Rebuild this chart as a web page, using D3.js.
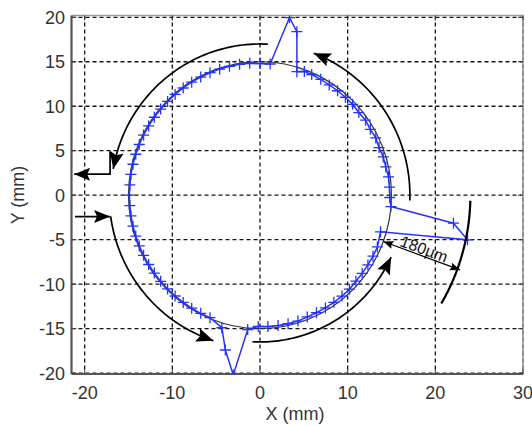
<!DOCTYPE html>
<html>
<head>
<meta charset="utf-8">
<script src="https://cdn.jsdelivr.net/npm/d3@7/dist/d3.min.js"></script>
<style>
  html, body { margin: 0; padding: 0; background: #fff; }
  svg { display: block; font-family: "Liberation Sans", Arial, sans-serif; }
</style>
</head>
<body>
<main></main>
<script>
const width = 532;
const height = 427;

// axis ticks
const xTicks = [-20, -10, 0, 10, 20, 30];
const yTicks = [-20, -15, -10, -5, 0, 5, 10, 15, 20];

const measX = [14.93, 14.80, 14.77, 14.66, 14.35, 14.06, 13.58, 13.21, 12.58, 12.04, 11.27, 10.57, 9.74, 8.85, 7.90, 6.93, 5.90, 5.06,
  4.21, 4.21, 3.36, 1.16, 0.02, -1.17, -2.33, -3.48, -4.60, -5.70, -6.76, -7.79, -8.76, -9.68, -10.54, -11.33, -12.05, -12.70,
  -13.28, -13.77, -14.17, -14.49, -14.72, -14.85, -14.90, -14.85, -14.72, -14.49, -14.17, -13.77, -13.28, -12.70, -12.05, -11.33,
  -10.54, -9.68, -8.76, -7.79, -6.76, -5.70, -4.35, -3.95, -3.05, -1.40, -0.20, 0.90, 2.06, 3.20, 4.33, 5.39, 6.44, 7.46, 8.43,
  9.35, 10.21, 10.94, 11.66, 12.31, 12.89, 13.39, 13.75, 23.67, 22.07, 14.93];
const measY = [-1.28, -0.26, 0.90, 2.06, 3.18, 4.30, 5.35, 6.44, 7.41, 8.43, 9.29, 10.21, 11.01, 11.74, 12.40, 13.02, 13.57, 13.91,
  13.89, 18.38, 19.96, 14.75, 14.80, 14.83, 14.72, 14.49, 14.17, 13.77, 13.28, 12.70, 12.05, 11.33, 10.54, 9.68, 8.76, 7.79,
  6.76, 5.70, 4.60, 3.48, 2.33, 1.17, 0.00, -1.17, -2.33, -3.48, -4.60, -5.70, -6.76, -7.79, -8.76, -9.68,
  -10.54, -11.33, -12.05, -12.70, -13.28, -13.77, -14.90, -17.40, -20.20, -15.10, -14.75, -14.77, -14.66, -14.45, -14.15, -13.68, -13.21, -12.67, -12.04,
  -11.34, -10.57, -9.67, -8.79, -7.84, -6.85, -5.82, -4.12, -5.02, -3.15, -1.28];

// nominal circle radius (mm)
const nominalR = 15;

// curved arrows: radius, start angle, end angle (degrees, arrow at end)
const arcArrows = [
  {r: 17.0, a0: 87, a1: 170},
  {r: 17.2, a0: 188, a1: 252},
  {r: 16.5, a0: -93, a1: -25},
  {r: 17.1, a0: -2, a1: 69}
];
// straight arrows (mm), arrow at the last point
const polyArrows = [
  [[-17.1, 4.9], [-17.1, 2.36], [-21.2, 2.36]],
  [[-21.1, -2.4], [-17.1, -2.4]]
];
// outer tolerance arc
const outerArc = {r: 24, a0: -1.5, a1: -30.5};
// dimension arrow
const dimFrom = [14.07, -5.21];
const dimTo = [22.82, -8.4];
const dimLabel = '180µm';

const box = {left: 71.5, right: 523, top: 15.5, bottom: 374};

const svg = d3.select('main')
  .append('svg')
  .attr('width', width)
  .attr('height', height);

const x = d3.scaleLinear().domain([-21.5, 30]).range([box.left, box.right]);
const y = d3.scaleLinear().domain([-20.1, 20.2]).range([box.bottom, box.top]);

svg.append('clipPath').attr('id', 'plot')
  .append('rect')
  .attr('x', box.left).attr('y', box.top)
  .attr('width', box.right - box.left).attr('height', box.bottom - box.top);

// grid
const grid = svg.append('g').attr('stroke', '#111').attr('stroke-width', 1.3).attr('stroke-dasharray', '4,3');
grid.selectAll('.gx').data(xTicks).enter().append('line')
  .attr('x1', d => x(d)).attr('x2', d => x(d))
  .attr('y1', box.top).attr('y2', box.bottom);
grid.selectAll('.gy').data(yTicks).enter().append('line')
  .attr('x1', box.left).attr('x2', box.right)
  .attr('y1', d => y(d)).attr('y2', d => y(d));

// box
svg.append('line').attr('x1', box.left).attr('x2', box.right).attr('y1', box.top).attr('y2', box.top)
  .attr('stroke', '#999').attr('stroke-width', 1.6);
svg.append('line').attr('x1', box.right).attr('x2', box.right).attr('y1', box.top).attr('y2', box.bottom)
  .attr('stroke', '#999').attr('stroke-width', 1.6);
svg.append('line').attr('x1', box.left).attr('x2', box.right).attr('y1', box.bottom).attr('y2', box.bottom)
  .attr('stroke', '#555').attr('stroke-width', 2.2);
svg.append('line').attr('x1', box.left).attr('x2', box.left).attr('y1', box.top).attr('y2', box.bottom)
  .attr('stroke', '#555').attr('stroke-width', 2.2);

// inward ticks
const ticks = svg.append('g').attr('stroke', '#444').attr('stroke-width', 1);
xTicks.forEach(d => {
  ticks.append('line').attr('x1', x(d)).attr('x2', x(d)).attr('y1', box.bottom).attr('y2', box.bottom - 5);
  ticks.append('line').attr('x1', x(d)).attr('x2', x(d)).attr('y1', box.top).attr('y2', box.top + 5);
});
yTicks.forEach(d => {
  ticks.append('line').attr('x1', box.left).attr('x2', box.left + 5).attr('y1', y(d)).attr('y2', y(d));
  ticks.append('line').attr('x1', box.right).attr('x2', box.right - 5).attr('y1', y(d)).attr('y2', y(d));
});

// tick labels
svg.append('g').selectAll('text').data(xTicks).enter().append('text')
  .attr('x', d => x(d)).attr('y', 398.5)
  .attr('text-anchor', 'middle').attr('font-size', 18).attr('fill', '#333')
  .text(d => d);
svg.append('g').selectAll('text').data(yTicks).enter().append('text')
  .attr('x', 65).attr('y', d => y(d) + 6.5)
  .attr('text-anchor', 'end').attr('font-size', 18).attr('fill', '#333')
  .text(d => d);

svg.append('text').attr('x', 295).attr('y', 420)
  .attr('text-anchor', 'middle').attr('font-size', 18).attr('fill', '#333')
  .text('X (mm)');
svg.append('text').attr('transform', 'translate(24,195) rotate(-90)')
  .attr('text-anchor', 'middle').attr('font-size', 18).attr('fill', '#333')
  .text('Y (mm)');

const plot = svg.append('g').attr('clip-path', 'url(#plot)');

// nominal circle
plot.append('ellipse')
  .attr('cx', x(0)).attr('cy', y(0))
  .attr('rx', x(nominalR) - x(0)).attr('ry', y(0) - y(nominalR))
  .attr('fill', 'none').attr('stroke', '#333').attr('stroke-width', 1.2);

// measured contour
const meas = measX.map((d, i) => [d, measY[i]]);
const line = d3.line().x(d => x(d[0])).y(d => y(d[1]));
plot.append('path').datum(meas)
  .attr('d', line)
  .attr('fill', 'none').attr('stroke', '#2233ff').attr('stroke-width', 1.5);
plot.append('g').selectAll('path').data(meas.slice(0, -1)).enter().append('path')
  .attr('d', d => `M${x(d[0]) - 5.5},${y(d[1])}H${x(d[0]) + 5.5}M${x(d[0])},${y(d[1]) - 5.5}V${y(d[1]) + 5.5}`)
  .attr('stroke', '#2233ff').attr('stroke-width', 1.3).attr('fill', 'none');

// annotations
const ann = svg.append('g');
const rad = Math.PI / 180;
const arcPoints = a => d3.range(0, 61).map(i => {
  const t = (a.a0 + (a.a1 - a.a0) * i / 60) * rad;
  return [a.r * Math.cos(t), a.r * Math.sin(t)];
});

const head = (p0, p1, len, w, notch) => {
  const x1 = x(p1[0]), y1 = y(p1[1]);
  const ang = Math.atan2(y1 - y(p0[1]), x1 - x(p0[0]));
  const c = Math.cos(ang), s = Math.sin(ang);
  const bx = x1 - len * c, by = y1 - len * s;
  const nx = x1 - (len - notch) * c, ny = y1 - (len - notch) * s;
  ann.append('path')
    .attr('d', `M${x1},${y1}L${bx - w * s},${by + w * c}L${nx},${ny}L${bx + w * s},${by - w * c}Z`)
    .attr('fill', '#000');
};

arcArrows.forEach(a => {
  const pts = arcPoints(a);
  ann.append('path').datum(pts).attr('d', line)
    .attr('fill', 'none').attr('stroke', '#000').attr('stroke-width', 1.7);
  head(pts[pts.length - 4], pts[pts.length - 1], 17, 7, 3);
});

polyArrows.forEach(pts => {
  ann.append('path').datum(pts).attr('d', line)
    .attr('fill', 'none').attr('stroke', '#000').attr('stroke-width', 1.7);
  head(pts[pts.length - 2], pts[pts.length - 1], 16, 6.5, 3);
});

ann.append('path').datum(arcPoints(outerArc)).attr('d', line)
  .attr('fill', 'none').attr('stroke', '#000').attr('stroke-width', 2.2);

ann.append('path').datum([dimFrom, dimTo]).attr('d', line)
  .attr('fill', 'none').attr('stroke', '#000').attr('stroke-width', 1.2);
head(dimTo, dimFrom, 10, 4, 1.5);
head(dimFrom, dimTo, 10, 4, 1.5);

const mx = (x(dimFrom[0]) + x(dimTo[0])) / 2;
const my = (y(dimFrom[1]) + y(dimTo[1])) / 2;
const dimAng = Math.atan2(y(dimTo[1]) - y(dimFrom[1]), x(dimTo[0]) - x(dimFrom[0])) / rad;
ann.append('text')
  .attr('transform', `translate(${mx},${my}) rotate(${dimAng})`)
  .attr('y', -1.5)
  .attr('text-anchor', 'middle').attr('font-size', 16).attr('fill', '#111')
  .text(dimLabel);
</script>
</body>
</html>
